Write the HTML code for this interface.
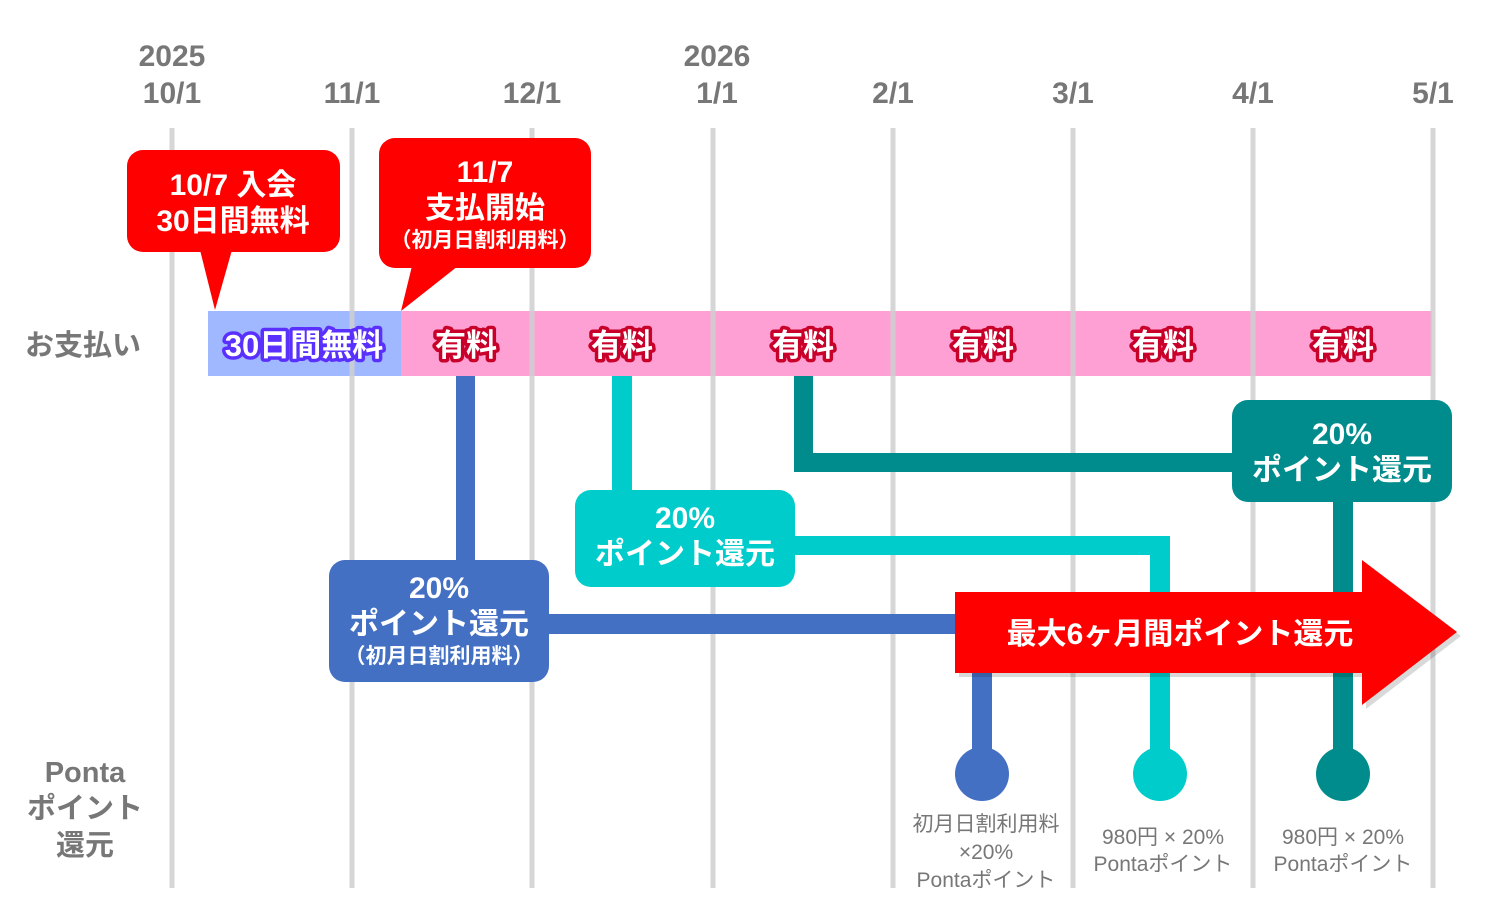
<!DOCTYPE html>
<html><head><meta charset="utf-8"><style>
html,body{margin:0;padding:0;background:#fff;}
svg{display:block;font-family:"Liberation Sans","Noto Sans CJK JP",sans-serif;font-weight:bold;}
</style></head><body>
<svg width="1500" height="920" viewBox="0 0 1500 920" xmlns="http://www.w3.org/2000/svg">
<rect width="1500" height="920" fill="#fff"/>
<!-- axis labels -->
<g fill="#777" font-size="30" text-anchor="middle">
<text x="172" y="66">2025</text><text x="172" y="103">10/1</text>
<text x="352" y="103">11/1</text>
<text x="532" y="103">12/1</text>
<text x="717" y="66">2026</text><text x="717" y="103">1/1</text>
<text x="893" y="103">2/1</text>
<text x="1073" y="103">3/1</text>
<text x="1253" y="103">4/1</text>
<text x="1433" y="103">5/1</text>
</g>
<g fill="#777" font-size="29" text-anchor="middle">
<text x="83" y="355">お支払い</text>
<text x="85" y="782">Ponta</text>
<text x="85" y="818">ポイント</text>
<text x="85" y="855">還元</text>
</g>
<!-- payment bar -->
<rect x="208" y="311" width="193" height="65" fill="#a0b8ff"/>
<rect x="401" y="311" width="1031" height="65" fill="#ffa0d4"/>
<!-- grid -->
<g stroke="#d0d0d0" stroke-width="5" opacity="0.85">
<line x1="172" y1="128" x2="172" y2="888"/>
<line x1="352" y1="128" x2="352" y2="888"/>
<line x1="532" y1="128" x2="532" y2="888"/>
<line x1="713" y1="128" x2="713" y2="888"/>
<line x1="893" y1="128" x2="893" y2="888"/>
<line x1="1073" y1="128" x2="1073" y2="888"/>
<line x1="1253" y1="128" x2="1253" y2="888"/>
<line x1="1433" y1="128" x2="1433" y2="888"/>
</g>
<g font-size="31" text-anchor="middle" stroke-linejoin="round" paint-order="stroke" stroke-width="7">
<text x="304" y="356" fill="#fff" stroke="#5a30ff">30日間無料</text>
<g fill="#fff" stroke="#c8002a">
<text x="466" y="356">有料</text>
<text x="622" y="356">有料</text>
<text x="803" y="356">有料</text>
<text x="983" y="356">有料</text>
<text x="1163" y="356">有料</text>
<text x="1343" y="356">有料</text>
</g>
</g>
<!-- callouts -->
<path d="M200 250 L215 310 L232 250 Z" fill="#f00"/>
<rect x="127" y="150" width="213" height="102" rx="16" fill="#f00"/>
<g fill="#fff" font-size="30" text-anchor="middle">
<text x="233" y="195">10/7 入会</text>
<text x="233" y="231">30日間無料</text>
</g>
<path d="M412 266 L401 311 L458 266 Z" fill="#f00"/>
<rect x="379" y="138" width="212" height="130" rx="16" fill="#f00"/>
<g fill="#fff" text-anchor="middle">
<text x="485" y="182" font-size="30">11/7</text>
<text x="485" y="218" font-size="30">支払開始</text>
<text x="485" y="247" font-size="21">（初月日割利用料）</text>
</g>
<!-- teal -->
<g fill="#008c8c">
<rect x="794" y="376" width="19" height="96"/>
<rect x="794" y="453" width="440" height="19"/>
<rect x="1333" y="500" width="20" height="270"/>
<circle cx="1343" cy="774" r="27"/>
<rect x="1232" y="400" width="220" height="102" rx="16"/>
</g>
<g fill="#fff" font-size="30" text-anchor="middle">
<text x="1342" y="444">20%</text><text x="1342" y="480">ポイント還元</text>
</g>
<!-- cyan -->
<g fill="#00cccc">
<rect x="612" y="376" width="20" height="116"/>
<rect x="793" y="536" width="377" height="19"/>
<rect x="1150" y="536" width="20" height="234"/>
<circle cx="1160" cy="774" r="27"/>
<rect x="575" y="490" width="220" height="97" rx="16"/>
</g>
<g fill="#fff" font-size="30" text-anchor="middle">
<text x="685" y="528">20%</text><text x="685" y="564">ポイント還元</text>
</g>
<!-- blue -->
<g fill="#4470c4">
<rect x="456" y="376" width="19" height="186"/>
<rect x="546" y="614" width="420" height="20"/>
<rect x="972" y="620" width="20" height="150"/>
<circle cx="982" cy="774" r="27"/>
<rect x="329" y="560" width="220" height="122" rx="16"/>
</g>
<g fill="#fff" text-anchor="middle">
<text x="439" y="598" font-size="30">20%</text>
<text x="439" y="634" font-size="30">ポイント還元</text>
<text x="439" y="663" font-size="21">（初月日割利用料）</text>
</g>
<!-- big arrow -->
<path d="M959 596 L1366 596 L1366 564 L1461 636 L1366 709 L1366 677 L959 677 Z" fill="#000" opacity="0.15"/>
<path d="M955 592 L1362 592 L1362 560 L1457 632 L1362 705 L1362 673 L955 673 Z" fill="#f00"/>
<text x="1180" y="644" fill="#fff" font-size="30" text-anchor="middle">最大6ヶ月間ポイント還元</text>
<!-- bottom notes -->
<g fill="#777" font-size="21" text-anchor="middle" font-weight="normal">
<text x="986" y="831">初月日割利用料</text>
<text x="986" y="859">×20%</text>
<text x="986" y="887">Pontaポイント</text>
<text x="1163" y="844">980円 × 20%</text>
<text x="1163" y="871">Pontaポイント</text>
<text x="1343" y="844">980円 × 20%</text>
<text x="1343" y="871">Pontaポイント</text>
</g>
</svg>
</body></html>
